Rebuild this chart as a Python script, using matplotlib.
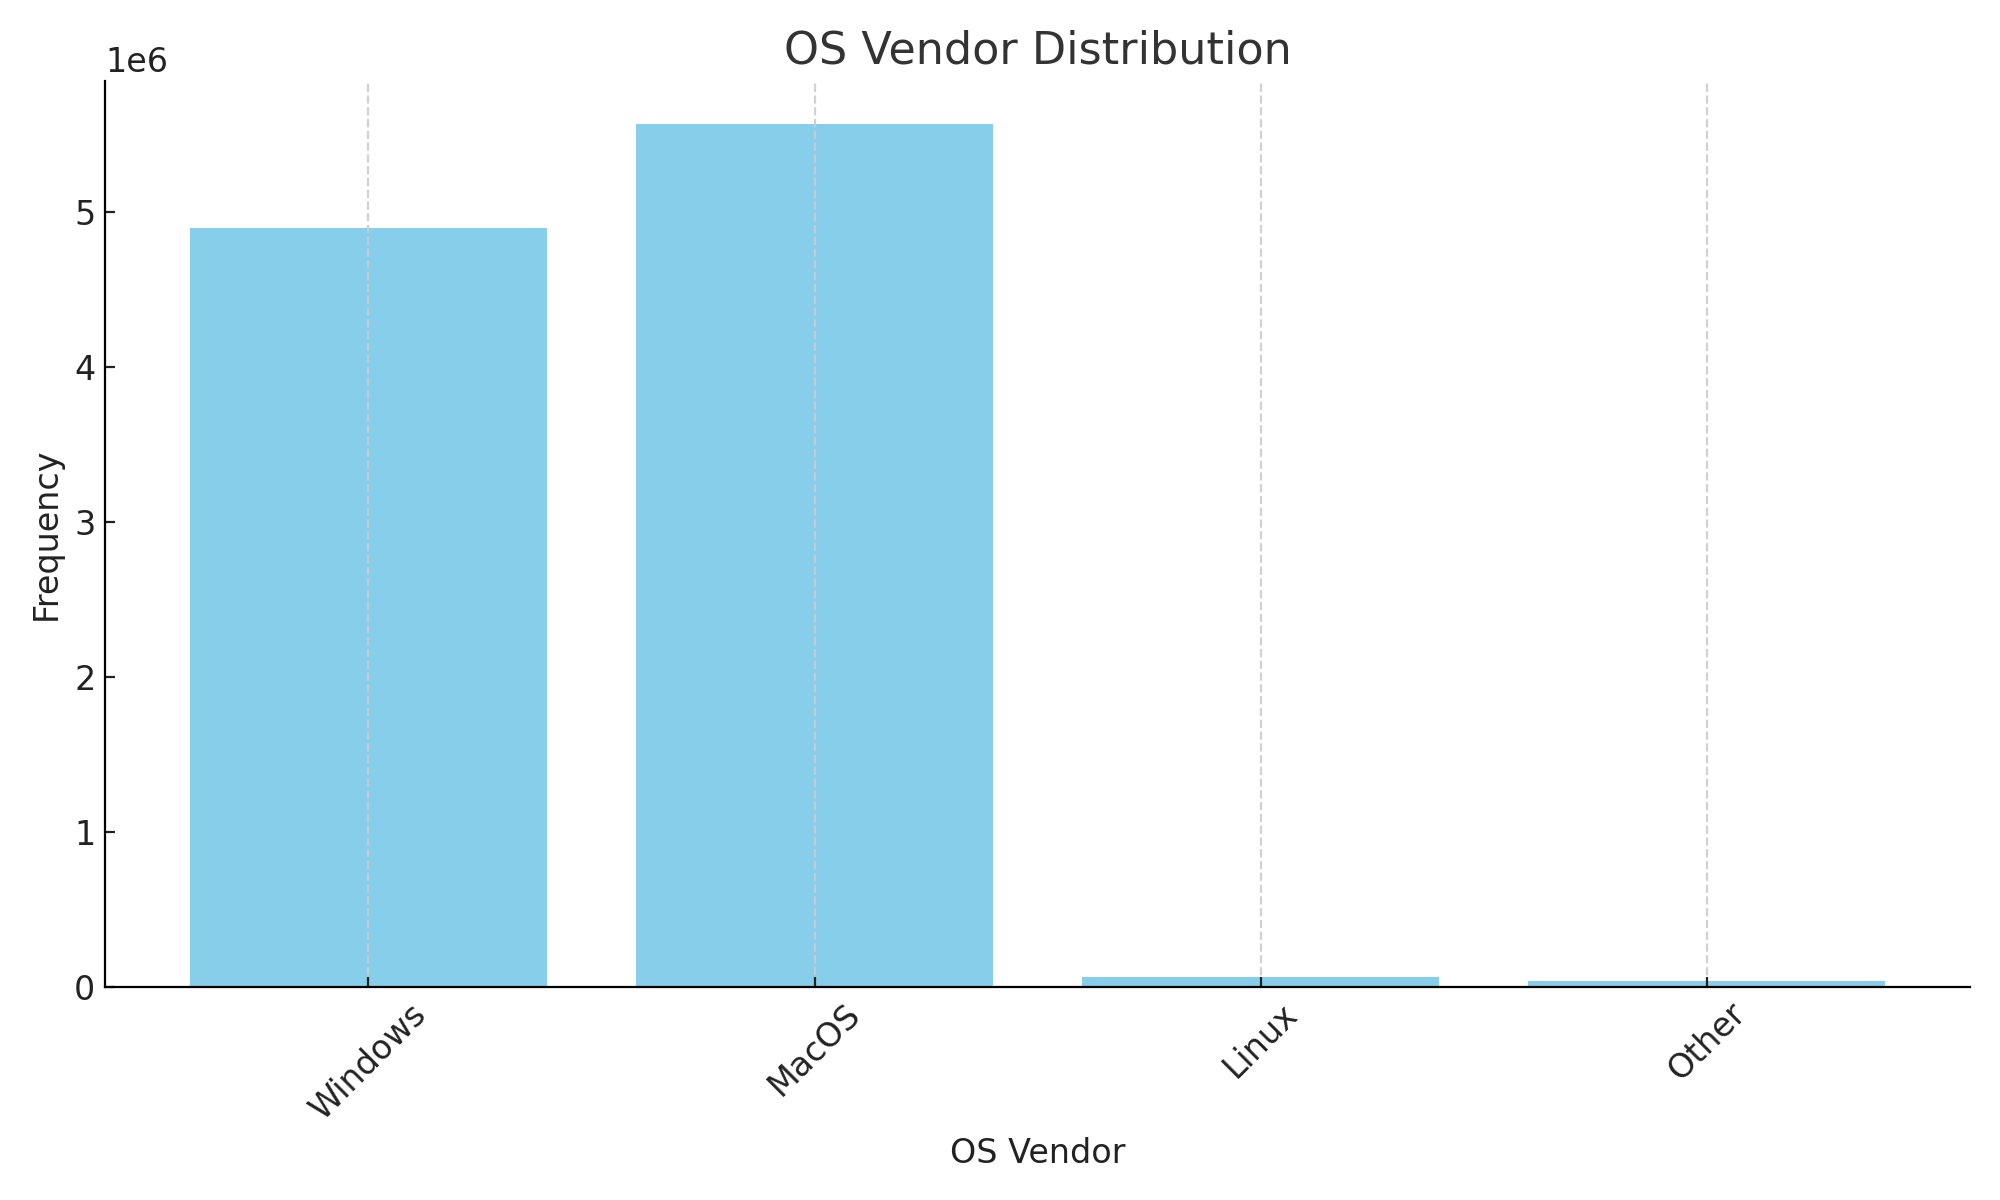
import matplotlib
matplotlib.use("Agg")
import matplotlib.pyplot as plt

# OS vendor counts
vendors = ["Windows", "MacOS", "Linux", "Other"]
counts = [4.90e6, 5.57e6, 0.07e6, 0.04e6]

fig, ax = plt.subplots(figsize=(10, 6), dpi=200)

ax.bar(vendors, counts, color="skyblue")
ax.set_title("OS Vendor Distribution", fontsize=16, color="#333333")
ax.set_xlabel("OS Vendor", fontsize=12, color="#222222")
ax.set_ylabel("Frequency", fontsize=12, color="#222222")

ax.tick_params(axis="both", labelsize=12, colors="#222222", direction="in")
ax.yaxis.get_offset_text().set_fontsize(12)
plt.xticks(rotation=45)

ax.grid(axis="x", linestyle="--", color="#cccccc", alpha=0.9)
ax.spines["top"].set_visible(False)
ax.spines["right"].set_visible(False)

plt.tight_layout()
plt.savefig("out.png")
